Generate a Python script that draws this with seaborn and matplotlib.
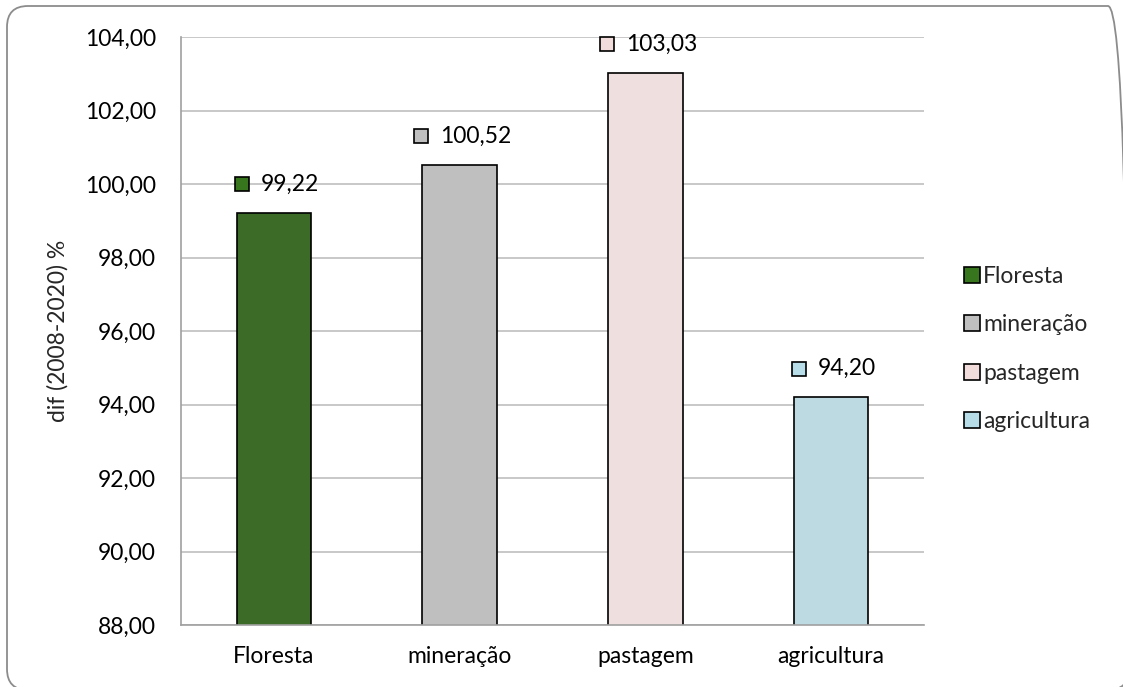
import matplotlib
matplotlib.use("Agg")
import matplotlib.pyplot as plt
import seaborn as sns
import pandas as pd
from matplotlib.patches import FancyBboxPatch, Rectangle
from matplotlib.lines import Line2D
from matplotlib.offsetbox import AnnotationBbox, DrawingArea, HPacker, TextArea
from matplotlib.ticker import FuncFormatter, MultipleLocator

categories = ["Floresta", "mineração", "pastagem", "agricultura"]
values = [99.22, 100.52, 103.03, 94.20]
colors = ["#38761D", "#BFBFBF", "#F2DCDB", "#B7DEE8"]
y_label = "dif (2008-2020) %"

FS = 16.5
W, H = 1123, 687

sns.set_theme(style="white")
plt.rcParams["font.family"] = ["Lato", "DejaVu Sans"]
plt.rcParams["font.size"] = FS


def fmt(v):
    return f"{v:.2f}".replace(".", ",")


df = pd.DataFrame({"uso": categories, "valor": values})

fig = plt.figure(figsize=(W / 100, H / 100), dpi=100)
ax = fig.add_axes([181 / W, 1 - 625 / H, (924 - 181) / W, (625 - 37) / H])

sns.barplot(data=df, x="uso", y="valor", hue="uso", palette=colors,
            dodge=False, width=0.4, edgecolor="black", linewidth=1.2,
            legend=False, ax=ax)

ax.set_xlim(-0.5, len(categories) - 0.5)
ax.set_ylim(88, 104)
ax.yaxis.set_major_locator(MultipleLocator(2))
ax.yaxis.set_major_formatter(FuncFormatter(lambda v, p: fmt(v)))
ax.grid(axis="y", color="#BFBFBF", linewidth=1.2)
ax.set_axisbelow(True)
for side in ["top", "right"]:
    ax.spines[side].set_visible(False)
for side in ["left", "bottom"]:
    ax.spines[side].set_color("#A0A0A0")
    ax.spines[side].set_linewidth(1.2)
ax.tick_params(axis="both", length=0, labelsize=FS, colors="black")
ax.tick_params(axis="y", pad=18)
ax.tick_params(axis="x", pad=15)
ax.set_xlabel("")
ax.set_ylabel(y_label, fontsize=FS, va="center")
ax.yaxis.set_label_coords((58 - 181) / 743, 0.5)

# value labels: colour key square + value, centred as a group above each bar
for i, (v, c) in enumerate(zip(values, colors)):
    key = DrawingArea(11, 11, 0, 0)
    key.add_artist(Rectangle((0.5, 0.5), 10, 10, facecolor=c, edgecolor="black", linewidth=1.2))
    txt = TextArea(fmt(v), textprops=dict(fontsize=FS, color="black"))
    pack = HPacker(children=[key, txt], align="center", pad=0, sep=8)
    ab = AnnotationBbox(pack, (i, v), xybox=(2, 20.5), boxcoords="offset points",
                        frameon=False, box_alignment=(0.5, 0.5), annotation_clip=False)
    ax.add_artist(ab)

handles = [Line2D([], [], marker="s", markersize=11, markerfacecolor=c,
                  markeredgecolor="black", markeredgewidth=1.2, linestyle="none", label=n)
           for n, c in zip(categories, colors)]
fig.legend(handles=handles, loc="center left", bbox_to_anchor=(966 / W, 1 - 349 / H),
           frameon=False, fontsize=FS, handlelength=0.55, handletextpad=0.2,
           labelspacing=1.2, borderaxespad=0, borderpad=0)

# rounded chart-area frame, running just past the right and bottom edges
border = FancyBboxPatch((7 / W, -3 / H), 1122 / W, 684 / H,
                        boxstyle=f"round,pad=0,rounding_size={21 / W}",
                        mutation_aspect=W / H,
                        transform=fig.transFigure, fill=False,
                        edgecolor="#8C8C8C", linewidth=1.3, clip_on=False)
fig.add_artist(border)

fig.savefig("out.png", dpi=100, facecolor="white")
